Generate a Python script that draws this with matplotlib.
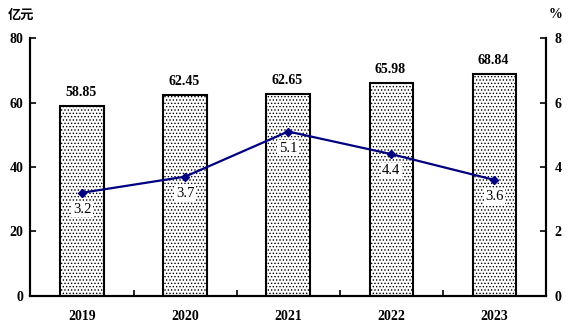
import numpy as np
import matplotlib.pyplot as plt

plt.rcParams['font.family'] = ['Liberation Serif', 'Noto Sans CJK SC']
plt.rcParams['hatch.linewidth'] = 0.6

years = ['2019', '2020', '2021', '2022', '2023']
revenue = [58.85, 62.45, 62.65, 65.98, 68.84]   # 亿元
growth = [3.2, 3.7, 5.1, 4.4, 3.6]             # %

x = np.arange(len(years))

fig = plt.figure(figsize=(5.7, 3.31), dpi=100)
ax = fig.add_axes([0.0535, 0.106, 0.904, 0.779])
ax2 = ax.twinx()

ax.bar(x, revenue, width=0.42, color='white', edgecolor='black',
       linewidth=1.5, hatch='.....')
for xi, v in zip(x, revenue):
    ax.annotate(f'{v:.2f}', (xi, v), xytext=(-1, 5), textcoords='offset points',
                ha='center', va='bottom', fontsize=10, fontweight='bold')

ax.set_xlim(-0.5, len(years) - 0.5)
ax.set_ylim(0, 80)
ax.set_yticks([0, 20, 40, 60, 80])
ax.set_xticks(x)
ax.set_xticklabels(years)
ax.set_xticks(x[:-1] + 0.5, minor=True)
ax.tick_params(axis='x', which='major', length=0, pad=10)
ax.tick_params(axis='x', which='minor', direction='in', length=4, width=1.2)
ax.tick_params(axis='y', direction='in', length=4, width=1.2, pad=5)

ax2.plot(x, growth, color='#000080', linewidth=1.6, marker='D', markersize=4)
for xi, v in zip(x, growth):
    ax2.annotate(f'{v}', (xi, v), xytext=(0, -12), textcoords='offset points',
                 ha='center', va='center', fontsize=10.5,
                 bbox=dict(boxstyle='square,pad=0.1', fc='white', ec='none'))
ax2.set_ylim(0, 8)
ax2.set_yticks([0, 2, 4, 6, 8])
ax2.tick_params(axis='y', direction='in', length=4, width=1.2, pad=6.5)

for a in (ax, ax2):
    a.spines['top'].set_visible(False)
    for s in ('left', 'right', 'bottom'):
        a.spines[s].set_linewidth(1.5)
    for lab in a.get_xticklabels() + a.get_yticklabels():
        lab.set_fontweight('bold')
        lab.set_fontsize(10)

fig.text(0.014, 0.955, '亿元', fontsize=9.5, fontweight='bold',
         family=['Noto Sans CJK SC'], va='center')
fig.text(0.962, 0.955, '%', fontsize=10, fontweight='bold', va='center')

fig.savefig('out.png', dpi=100)
